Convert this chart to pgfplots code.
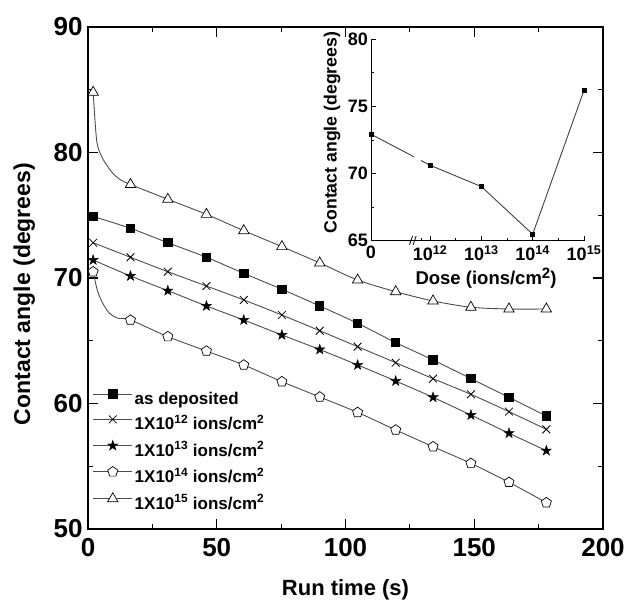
\documentclass[border=0pt]{standalone}
\usepackage{fontspec}
\setmainfont{Liberation Sans}
\usepackage{pgfplots}
\pgfplotsset{compat=1.18}
\usetikzlibrary{plotmarks}

\pgfdeclareplotmark{fstar}{%
 \pgfpathmoveto{\pgfpointpolar{90}{1.25\pgfplotmarksize}}%
 \pgfpathlineto{\pgfpointpolar{126}{0.48\pgfplotmarksize}}%
 \pgfpathlineto{\pgfpointpolar{162}{1.25\pgfplotmarksize}}%
 \pgfpathlineto{\pgfpointpolar{198}{0.48\pgfplotmarksize}}%
 \pgfpathlineto{\pgfpointpolar{234}{1.25\pgfplotmarksize}}%
 \pgfpathlineto{\pgfpointpolar{270}{0.48\pgfplotmarksize}}%
 \pgfpathlineto{\pgfpointpolar{306}{1.25\pgfplotmarksize}}%
 \pgfpathlineto{\pgfpointpolar{342}{0.48\pgfplotmarksize}}%
 \pgfpathlineto{\pgfpointpolar{18}{1.25\pgfplotmarksize}}%
 \pgfpathlineto{\pgfpointpolar{54}{0.48\pgfplotmarksize}}%
 \pgfpathclose
 \pgfusepathqfillstroke
}

\pgfplotsset{
  lstyle/.style={black!70, line width=0.9pt},
}

\begin{document}
\begin{tikzpicture}
\begin{axis}[
  at={(0pt,0pt)}, anchor=south west,
  scale only axis, width=515pt, height=502pt,
  xmin=0, xmax=200, ymin=50, ymax=90,
  xtick={0,50,100,150,200}, minor xtick={25,75,125,175},
  ytick={50,60,70,80,90}, minor ytick={55,65,75,85},
  tick align=inside, major tick length=10pt, minor tick length=5pt,
  tick style={line width=1.2pt, black},
  axis line style={line width=1.5pt},
  /pgf/number format/assume math mode=true,
  every tick label/.append style={font=\fontsize{26}{30}\selectfont\bfseries},
  xticklabel style={yshift=-6pt},
  yticklabel style={xshift=-2pt},
  xlabel={Run time (s)}, ylabel={Contact angle (degrees)},
  every axis x label/.style={at={(axis description cs:0.5,-0.1215)}, anchor=center, font=\fontsize{22}{26}\selectfont\bfseries},
  every axis y label/.style={at={(axis description cs:-0.124,0.468)}, anchor=center, rotate=90, font=\fontsize{23}{27}\selectfont\bfseries},
  legend style={at={(axis description cs:0.009,0.027)}, anchor=south west, draw=none, fill=none,
     font=\fontsize{17}{20}\selectfont\bfseries, row sep=4.4pt, inner sep=0pt,
     nodes={inner sep=2pt, text height=13pt, text depth=4pt}},
  legend cell align=left,
  legend image code/.code={\draw[mark repeat=2,mark phase=2,#1] plot coordinates {(0pt,6pt)(19.5pt,6pt)(39pt,6pt)};},
]
\addlegendimage{lstyle, mark=square*, mark size=4.2pt, mark options={solid, draw=black, fill=black}}
\addlegendentry{as deposited}
\addlegendimage{lstyle, mark=x, mark size=5.5pt, mark options={solid, draw=black, line width=0.8pt}}
\addlegendentry{1X10\textsuperscript{12} ions/cm\textsuperscript{2}}
\addlegendimage{lstyle, mark=fstar, mark size=4.3pt, mark options={solid, draw=black, fill=black, line width=0.4pt}}
\addlegendentry{1X10\textsuperscript{13} ions/cm\textsuperscript{2}}
\addlegendimage{lstyle, mark=pentagon*, mark size=5.3pt, mark options={solid, draw=black, fill=white, line width=0.7pt}}
\addlegendentry{1X10\textsuperscript{14} ions/cm\textsuperscript{2}}
\addlegendimage{lstyle, mark=triangle*, mark size=6pt, mark options={solid, draw=black, fill=white, line width=0.7pt}}
\addlegendentry{1X10\textsuperscript{15} ions/cm\textsuperscript{2}}

% as deposited
\addplot[lstyle, smooth, mark=square*, mark size=4.2pt, mark options={solid, draw=black, fill=black}, forget plot] coordinates {
(2,74.9)(16.5,73.96)(31,72.81)(46,71.65)(60.5,70.37)(75.3,69.1)(90,67.77)(104.7,66.39)(119.5,64.85)(134,63.47)(148.7,61.98)(163.5,60.49)(178,59.0)};
% 1e12
\addplot[lstyle, smooth, mark=x, mark size=5.5pt, mark options={solid, draw=black, line width=0.8pt}, forget plot] coordinates {
(2,72.81)(16.5,71.65)(31,70.5)(46,69.36)(60.5,68.25)(75.3,67.05)(90,65.8)(104.7,64.53)(119.5,63.25)(134,61.98)(148.7,60.73)(163.5,59.35)(178,57.94)};
% 1e13
\addplot[lstyle, smooth, mark=fstar, mark size=4.3pt, mark options={solid, draw=black, fill=black, line width=0.4pt}, forget plot] coordinates {
(2,71.43)(16.5,70.16)(31,68.99)(46,67.77)(60.5,66.65)(75.3,65.46)(90,64.3)(104.7,63.07)(119.5,61.79)(134,60.49)(148.7,59.08)(163.5,57.63)(178,56.24)};
% 1e14 line
\addplot[lstyle, smooth, forget plot] coordinates {
(2,70.5)(2.5,70.0)(3.8,68.9)(5.7,68.0)(8.3,67.2)(11.5,66.8)(16.5,66.65)(31,65.33)(46,64.18)(60.5,63.07)(75.3,61.74)(90,60.52)(104.7,59.29)(119.5,57.89)(134,56.56)(148.7,55.23)(163.5,53.72)(178,52.1)};
\addplot[only marks, mark=pentagon*, mark size=5.3pt, mark options={solid, draw=black, fill=white, line width=0.7pt}, forget plot] coordinates {
(2,70.5)(16.5,66.65)(31,65.33)(46,64.18)(60.5,63.07)(75.3,61.74)(90,60.52)(104.7,59.29)(119.5,57.89)(134,56.56)(148.7,55.23)(163.5,53.72)(178,52.1)};
% 1e15 line
\addplot[lstyle, smooth, forget plot] coordinates {
(2,84.8)(2.7,82.6)(3.4,80.9)(4.4,80.1)(6.3,79.3)(9.6,78.35)(12.8,77.8)(16.5,77.45)(31,76.27)(46,75.07)(60.5,73.77)(75.3,72.5)(90,71.2)(104.7,69.84)(119.5,68.91)(134,68.17)(148.7,67.67)(163.5,67.53)(178,67.53)};
\addplot[only marks, mark=triangle*, mark size=6pt, mark options={solid, draw=black, fill=white, line width=0.7pt}, forget plot] coordinates {
(2,84.8)(16.5,77.45)(31,76.27)(46,75.07)(60.5,73.77)(75.3,72.5)(90,71.2)(104.7,69.84)(119.5,68.91)(134,68.17)(148.7,67.67)(163.5,67.53)(178,67.53)};
\end{axis}

\begin{axis}[
  at={(283pt,288.3pt)}, anchor=south west,
  scale only axis, width=213pt, height=201.4pt,
  xmin=10.85, xmax=15, ymin=65, ymax=80,
  axis lines*=left, axis line style={-, line width=1pt},
  clip=false,
  xtick={10.85,12,13,14,15},
  xticklabels={0,10\textsuperscript{12},10\textsuperscript{13},10\textsuperscript{14},10\textsuperscript{15}},
  minor xtick={11.84,12.5,13.5,14.5},
  ytick={65,70,75,80}, minor ytick={67.5,72.5,77.5},
  tick align=inside, major tick length=5pt, minor tick length=3pt,
  tick style={line width=0.8pt, black},
  /pgf/number format/assume math mode=true,
  every tick label/.append style={font=\fontsize{18}{21}\selectfont\bfseries},
  xticklabel style={yshift=-1.5pt},
  yticklabel style={xshift=0.5pt},
  xlabel={Dose (ions/cm\raisebox{0.3em}{\fontsize{15}{15}\selectfont 2})},
  ylabel={Contact angle (degrees)},
  every axis x label/.style={at={(axis description cs:0.54,-0.185)}, anchor=center, font=\fontsize{18.5}{22}\selectfont\bfseries},
  every axis y label/.style={at={(axis description cs:-0.183,0.537)}, anchor=center, rotate=90, font=\fontsize{17.7}{21}\selectfont\bfseries},
]
\addplot[black!75, line width=0.9pt, mark=square*, mark size=2pt, mark options={solid, black}] coordinates {
(10.85,72.93)(12,70.62)(13,69.03)(14,65.48)(15,76.2)};
\fill[white] (axis cs:11.69,70.4) rectangle (axis cs:11.83,71.9);
\draw[black, line width=0.8pt] (axis cs:11.60,64.7) -- (axis cs:11.66,65.35);
\draw[black, line width=0.8pt] (axis cs:11.67,64.7) -- (axis cs:11.73,65.35);
\end{axis}
\pgfresetboundingbox
\useasboundingbox (-88pt,-80pt) rectangle (537pt,529pt);
\end{tikzpicture}
\end{document}
